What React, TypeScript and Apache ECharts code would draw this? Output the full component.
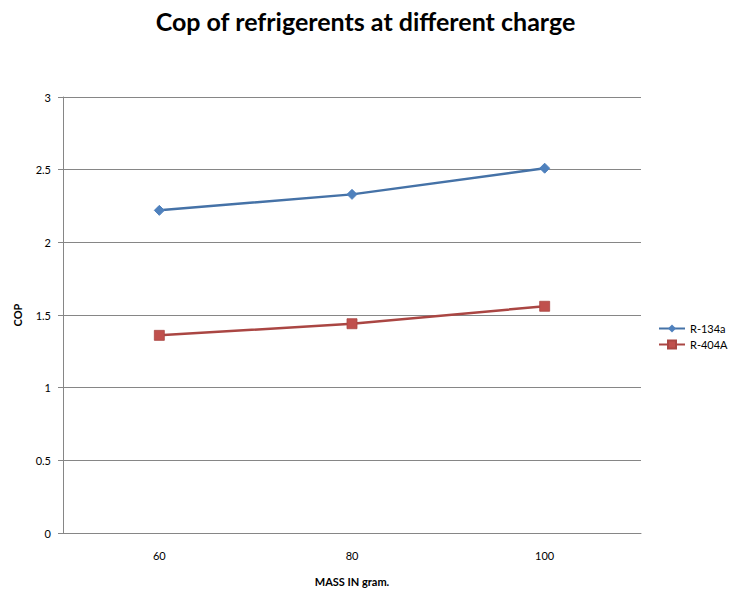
import React, { useEffect, useRef } from "react";
import * as echarts from "echarts";

const massCategories = ["60", "80", "100"];
const r134aCop = [2.22, 2.33, 2.51];
const r404aCop = [1.36, 1.44, 1.56];
const seriesNames = ["R-134a", "R-404A"];

const FONT = "Lato, 'Open Sans', sans-serif";

export default function App() {
  const ref = useRef<HTMLDivElement>(null);

  useEffect(() => {
    if (!ref.current) return;
    const chart = echarts.init(ref.current, undefined, { renderer: "svg" });
    chart.setOption({
      animation: false,
      backgroundColor: "#ffffff",
      textStyle: { fontFamily: FONT },
      title: {
        text: "Cop of refrigerents at different charge",
        left: "center",
        top: 3,
        textStyle: { fontFamily: FONT, fontSize: 25, fontWeight: "bold", color: "#000" },
      },
      legend: {
        orient: "vertical",
        left: 658,
        top: 323,
        itemWidth: 26,
        itemHeight: 10,
        itemGap: 5,
        padding: 0,
        data: seriesNames,
        textStyle: { fontFamily: FONT, fontSize: 11, color: "#000" },
      },
      grid: { left: 63, right: 90, top: 97, bottom: 55 },
      xAxis: {
        type: "category",
        data: massCategories,
        boundaryGap: true,
        name: "MASS IN gram.",
        nameLocation: "middle",
        nameGap: 43,
        nameTextStyle: { fontFamily: FONT, fontSize: 11, fontWeight: "bold", color: "#000" },
        axisLine: { lineStyle: { color: "#868686", width: 1 } },
        axisTick: { show: false },
        axisLabel: { fontFamily: FONT, fontSize: 11, color: "#000", margin: 17 },
      },
      yAxis: {
        type: "value",
        min: 0,
        max: 3,
        interval: 0.5,
        name: "COP",
        nameLocation: "middle",
        nameGap: 40,
        nameRotate: 90,
        nameTextStyle: { fontFamily: FONT, fontSize: 11, fontWeight: "bold", color: "#000" },
        axisLine: { show: true, lineStyle: { color: "#868686", width: 1 } },
        axisTick: { show: true, length: 5, lineStyle: { color: "#868686" } },
        axisLabel: { fontFamily: FONT, fontSize: 11, color: "#000", margin: 12 },
        splitLine: { lineStyle: { color: "#868686", width: 1 } },
      },
      series: [
        {
          name: seriesNames[0],
          type: "line",
          data: r134aCop,
          symbol: "diamond",
          symbolSize: 10,
          lineStyle: { color: "#4572A7", width: 2.5 },
          itemStyle: { color: "#4F81BD", borderColor: "#4F81BD" },
        },
        {
          name: seriesNames[1],
          type: "line",
          data: r404aCop,
          symbol: "rect",
          symbolSize: 10,
          lineStyle: { color: "#AA4643", width: 2.5 },
          itemStyle: { color: "#C0504D", borderColor: "#AA4643", borderWidth: 0.8 },
        },
      ],
    });
    return () => chart.dispose();
  }, []);

  return <div ref={ref} style={{ width: 731, height: 592, position: "absolute", left: 0, top: 0 }} />;
}
